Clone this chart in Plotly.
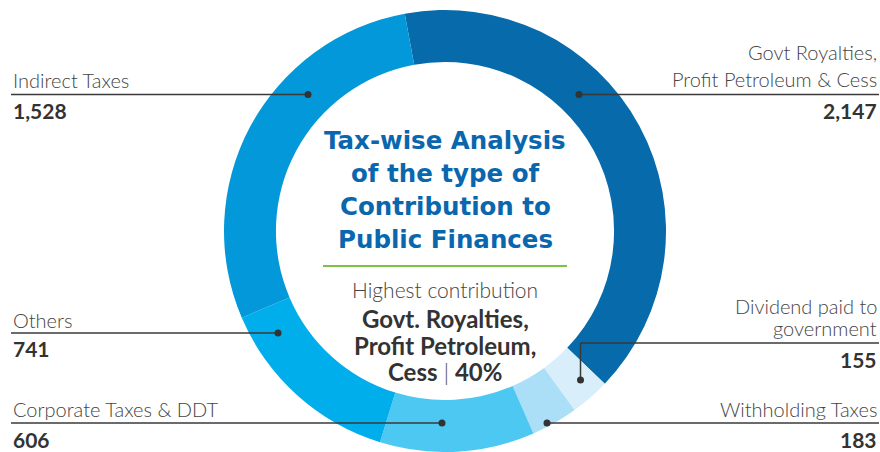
import plotly.graph_objects as go

# ---- data ----
categories = ["Govt Royalties, Profit Petroleum & Cess", "Dividend paid to government",
              "Withholding Taxes", "Corporate Taxes & DDT", "Others", "Indirect Taxes"]
values = [2147, 155, 183, 606, 741, 1528]
value_labels = ["2,147", "155", "183", "606", "741", "1,528"]
colors = ["#066aab", "#d9eefb", "#abdff7", "#4dc8f2", "#00aeeb", "#0398d9"]

W, H = 880, 452
def px(x):
    return x / W
def py(y):
    return 1 - y / H

fig = go.Figure()
fig.add_trace(go.Pie(
    labels=categories, values=values, sort=False, direction="clockwise",
    rotation=-10.5, hole=0.765, marker=dict(colors=colors, line=dict(width=0)),
    textinfo="none", hoverinfo="label+value", showlegend=False,
    domain=dict(x=[px(445 - 221), px(445 + 221)], y=[0, py(10)]),
))

LBL = dict(family="Lato", size=20, color="#444444", weight=300)
NUM = dict(family="Lato", size=21, color="#333333", weight=700)
ann = []
def text(x, y, t, font, xanchor):
    ann.append(dict(x=px(x), y=py(y), xref="paper", yref="paper", text=t, showarrow=False,
                    font=font, xanchor=xanchor, yanchor="middle"))

text(11, 80, "Indirect Taxes", LBL, "left")
text(11, 110, value_labels[5], NUM, "left")
text(11, 319.5, "Others", LBL, "left")
text(11, 348, value_labels[4], NUM, "left")
text(11, 409, "Corporate Taxes & DDT", LBL, "left")
text(11, 439.5, value_labels[3], NUM, "left")
text(879, 51.5, "Govt Royalties,", LBL, "right")
text(879, 79, "Profit Petroleum & Cess", LBL, "right")
text(879, 110, value_labels[0], NUM, "right")
text(879, 305.5, "Dividend paid to", LBL, "right")
text(879, 328, "government", LBL, "right")
text(879, 359.5, value_labels[1], NUM, "right")
text(879, 409, "Withholding Taxes", LBL, "right")
text(879, 439.5, value_labels[2], NUM, "right")

TITLE = dict(family="DejaVu Sans", size=24.5, color="#0a67ad", weight=700)
for y, t in [(140, "Tax-wise Analysis"), (173.5, "of the type of"),
             (206.5, "Contribution to"), (239.5, "Public Finances")]:
    text(445, y, t, TITLE, "center")
text(445, 289.5, "Highest contribution", dict(family="Lato", size=21, color="#444444", weight=300), "center")
BOLD = dict(family="Lato", size=24, color="#333333", weight=700)
text(445, 318.5, "Govt. Royalties,", BOLD, "center")
text(445, 345, "Profit Petroleum,", BOLD, "center")
text(445, 371.5, "Cess <span style='font-weight:300;color:#555555'>|</span> 40%", BOLD, "center")

shapes = []
def line(x0, y0, x1, y1, color="#3a3a3a", width=1.5):
    shapes.append(dict(type="line", xref="paper", yref="paper", x0=px(x0), y0=py(y0),
                       x1=px(x1), y1=py(y1), line=dict(color=color, width=width)))
def dot(x, y, r=3.5):
    shapes.append(dict(type="circle", xref="paper", yref="paper", x0=px(x - r), y0=py(y - r),
                       x1=px(x + r), y1=py(y + r), fillcolor="#333333", line=dict(width=0)))

line(323, 266, 567, 266, color="#7dc242", width=2)
line(11, 94.5, 308, 94.5); dot(308, 94.5)
line(579, 94.5, 879, 94.5); dot(579, 94.5)
line(11, 333, 278, 333); dot(278, 333)
line(11, 423, 442, 423); dot(442, 423)
line(547, 423, 879, 423); dot(547, 423)
line(580.5, 343, 879, 343); line(580.5, 343, 580.5, 380); dot(580.5, 380)

fig.update_layout(width=W, height=H, margin=dict(l=0, r=0, t=0, b=0),
                  paper_bgcolor="white", plot_bgcolor="white",
                  annotations=ann, shapes=shapes)
fig.write_html("out.html", config={"displayModeBar": False},
               post_script="document.body.style.margin='0';document.body.style.overflow='hidden';")
